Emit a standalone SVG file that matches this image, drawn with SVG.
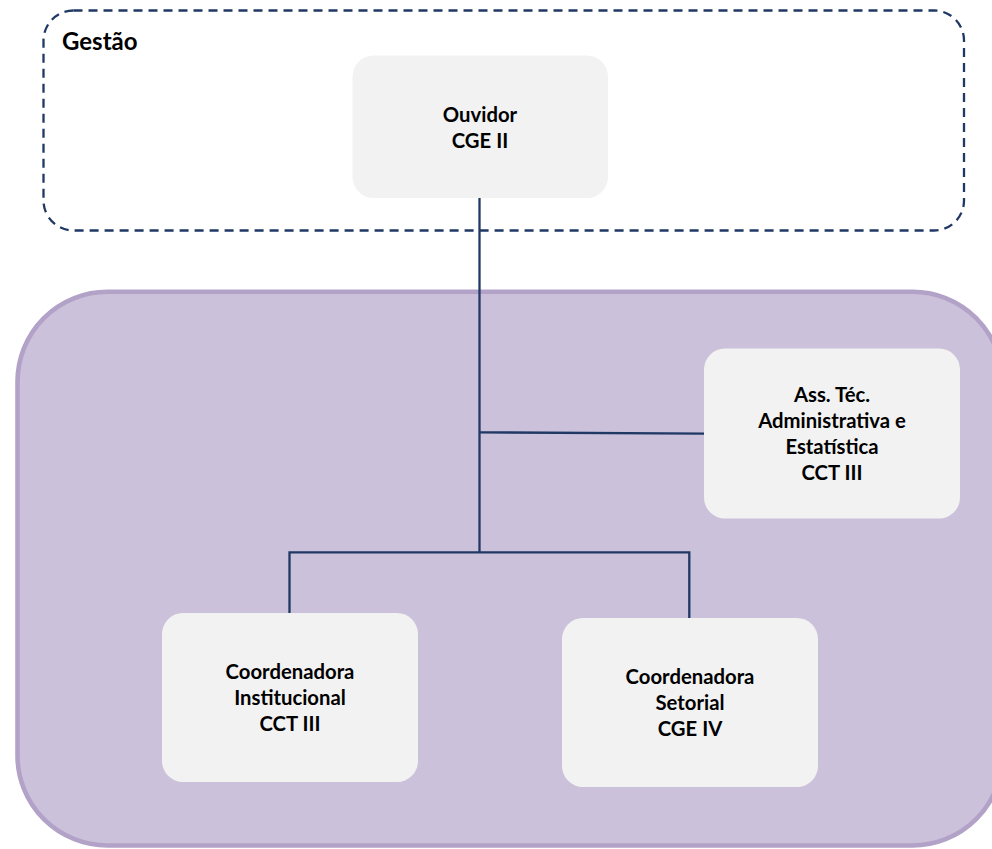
<svg xmlns="http://www.w3.org/2000/svg" width="992" height="849" viewBox="0 0 992 849">
<style>
.box{fill:#f2f2f2;stroke:none}
.t{font-family:Lato,"Liberation Sans",sans-serif;font-weight:bold;font-size:20.3px;fill:#000;text-anchor:middle}
.conn{fill:none;stroke:#1f3864;stroke-width:2.3;stroke-linecap:butt;stroke-linejoin:miter}
</style>
<rect width="992" height="849" fill="#fff"/>
<g id="gestao">
<rect x="43.5" y="10.5" width="920.5" height="220" rx="30" ry="30" fill="none" stroke="#1f3864" stroke-width="2.3" stroke-dasharray="9 6"/>
<text x="62" y="50" font-family="Lato,'Liberation Sans',sans-serif" font-weight="bold" font-size="24" fill="#000">Gestão</text>
</g>
<g id="area">
<rect x="17.5" y="291.7" width="985" height="553.8" rx="90" ry="90" fill="#ccc1da" stroke="#b3a2c7" stroke-width="4.6"/>
</g>
<g id="connectors">
<path class="conn" d="M479.5 198 V552.3"/>
<path class="conn" d="M479.5 432.3 L705 433.7"/>
<path class="conn" d="M289.5 613 V552.3 H689.3 V618"/>
</g>
<g id="ouvidor">
<rect class="box" x="352.5" y="55.5" width="255.5" height="142.5" rx="21"/>
<text class="t" x="480" y="121.5">Ouvidor</text>
<text class="t" x="480" y="147.5">CGE II</text>
</g>
<g id="assessoria">
<rect class="box" x="704" y="348.5" width="256" height="170" rx="21"/>
<text class="t" x="832" y="402">Ass. Téc.</text>
<text class="t" x="832" y="428">Administrativa e</text>
<text class="t" x="832" y="454">Estatística</text>
<text class="t" x="832" y="480">CCT III</text>
</g>
<g id="coord-institucional">
<rect class="box" x="162" y="613" width="256" height="169" rx="21"/>
<text class="t" x="290" y="678.5">Coordenadora</text>
<text class="t" x="290" y="704.5">Institucional</text>
<text class="t" x="290" y="730.5">CCT III</text>
</g>
<g id="coord-setorial">
<rect class="box" x="562" y="618" width="256" height="169" rx="21"/>
<text class="t" x="690" y="683.5">Coordenadora</text>
<text class="t" x="690" y="709.5">Setorial</text>
<text class="t" x="690" y="735.5">CGE IV</text>
</g>
</svg>
